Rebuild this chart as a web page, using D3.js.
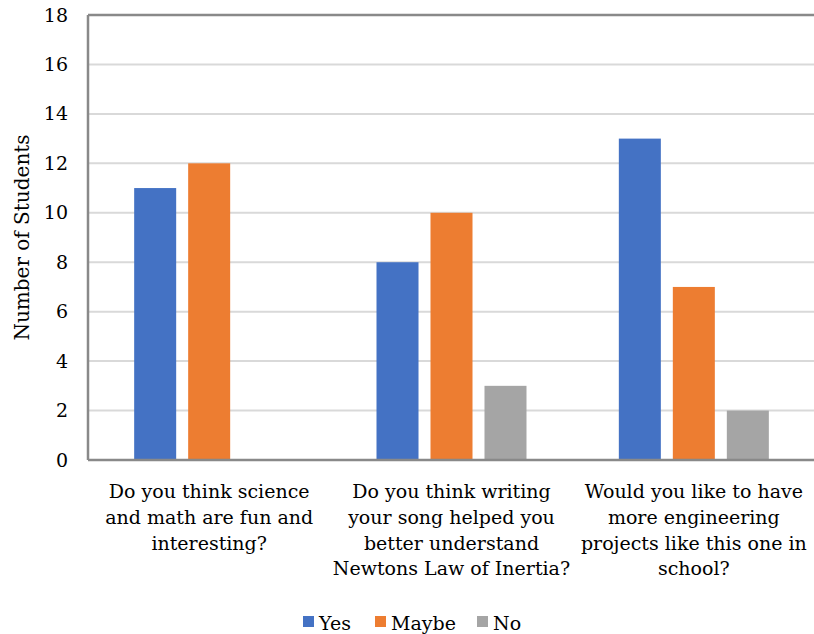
<!DOCTYPE html>
<html>
<head>
<meta charset="utf-8">
<script src="https://cdn.jsdelivr.net/npm/d3@7"></script>
<style>
  html, body { margin: 0; padding: 0; background: #fff; }
  svg { display: block; }
</style>
</head>
<body>
<svg id="chart" width="814" height="634"></svg>
<script>
// Survey questions (line breaks mark how each label wraps under its group)
const categories = [
  "Do you think science\nand math are fun and\ninteresting?",
  "Do you think writing\nyour song helped you\nbetter understand\nNewtons Law of Inertia?",
  "Would you like to have\nmore engineering\nprojects like this one in\nschool?"
];
const seriesNames = ["Yes", "Maybe", "No"];
const yesValues = [11, 8, 13];
const maybeValues = [12, 10, 7];
const noValues = [0, 3, 2];
const yTicks = [0, 2, 4, 6, 8, 10, 12, 14, 16, 18];
const colors = ["#4472C4", "#ED7D31", "#A5A5A5"];

const FONT = "'DejaVu Serif', 'Liberation Serif', serif";
const FS = 19;

const seriesValues = [yesValues, maybeValues, noValues];
const rows = categories.map((c, i) => ({
  category: c,
  values: seriesNames.map((s, j) => ({ series: s, value: seriesValues[j][i] }))
}));

const svg = d3.select("#chart").attr("font-family", FONT);
const margin = { left: 88, right: -1, top: 15, bottom: 174 };
const W = 814, H = 634;

const x0 = d3.scaleBand()
  .domain(categories)
  .range([margin.left, W - margin.right])
  .padding(0);

const groupWidth = 150;
const x1 = d3.scaleBand()
  .domain(seriesNames)
  .range([-groupWidth / 2, groupWidth / 2])
  .paddingInner(0.222)
  .paddingOuter(0);

const y = d3.scaleLinear()
  .domain([0, 18])
  .range([H - margin.bottom, margin.top]);

const color = d3.scaleOrdinal().domain(seriesNames).range(colors);

// gridlines
svg.append("g")
  .selectAll("line")
  .data(yTicks.filter(t => t > 0 && t < 18))
  .join("line")
  .attr("x1", margin.left)
  .attr("x2", W)
  .attr("y1", d => y(d))
  .attr("y2", d => y(d))
  .attr("stroke", "#D9D9D9")
  .attr("stroke-width", 2);

// bars
const groups = svg.append("g")
  .selectAll("g")
  .data(rows)
  .join("g")
  .attr("transform", d => `translate(${x0(d.category) + x0.bandwidth() / 2},0)`);

groups.selectAll("rect")
  .data(d => d.values.filter(v => v.value > 0))
  .join("rect")
  .attr("x", d => x1(d.series))
  .attr("width", x1.bandwidth())
  .attr("y", d => y(d.value))
  .attr("height", d => y(0) - y(d.value))
  .attr("fill", d => color(d.series));

// plot frame: left axis, baseline and top border
const frame = svg.append("g").attr("stroke", "#898989").attr("stroke-width", 2.5).attr("fill", "none");
frame.append("line").attr("x1", margin.left).attr("x2", margin.left).attr("y1", y(18)).attr("y2", y(0));
frame.append("line").attr("x1", margin.left).attr("x2", W).attr("y1", y(0)).attr("y2", y(0));
frame.append("line").attr("x1", margin.left).attr("x2", W).attr("y1", y(18)).attr("y2", y(18));

// y axis labels
const yAxis = d3.axisLeft(y).tickValues(yTicks).tickSize(0).tickPadding(20);
const yg = svg.append("g")
  .attr("transform", `translate(${margin.left},0)`)
  .call(yAxis)
  .attr("font-family", FONT)
  .attr("font-size", FS);
yg.select(".domain").remove();
yg.selectAll("text").attr("fill", "#000");

// y axis title
svg.append("text")
  .attr("transform", `translate(29,${(y(0) + y(18)) / 2}) rotate(-90)`)
  .attr("text-anchor", "middle")
  .attr("font-size", 20)
  .attr("fill", "#000")
  .text("Number of Students");

// category labels
svg.append("g")
  .selectAll("text")
  .data(categories)
  .join("text")
  .attr("text-anchor", "middle")
  .attr("font-size", FS)
  .attr("fill", "#000")
  .attr("x", d => x0(d) + x0.bandwidth() / 2)
  .attr("y", y(0) + 38)
  .selectAll("tspan")
  .data(d => d.split("\n"))
  .join("tspan")
  .attr("x", function () { return this.parentNode.getAttribute("x"); })
  .attr("dy", (d, i) => i === 0 ? 0 : 25.8)
  .text(d => d);

// legend
const legendItems = [
  { name: "Yes", x: 303 },
  { name: "Maybe", x: 375 },
  { name: "No", x: 477 }
];
const lg = svg.append("g");
const li = lg.selectAll("g").data(legendItems).join("g")
  .attr("transform", d => `translate(${d.x},616)`);
li.append("rect").attr("width", 11).attr("height", 11).attr("fill", d => color(d.name));
li.append("text").attr("x", 16).attr("y", 14).attr("font-size", FS).attr("fill", "#000").text(d => d.name);
</script>
</body>
</html>
